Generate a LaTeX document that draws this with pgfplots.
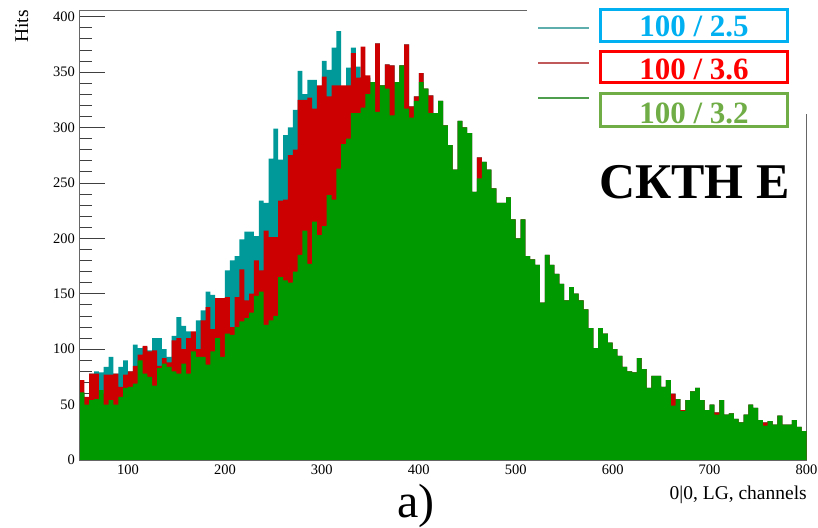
\documentclass[border=0pt]{standalone}
\usepackage{fontspec}
\setmainfont{Liberation Serif}
\usepackage{pgfplots}
\pgfplotsset{compat=1.18}
\usepackage{pgfplotstable}

\definecolor{hteal}{HTML}{009999}
\definecolor{hred}{HTML}{CC0000}
\definecolor{hgreen}{HTML}{009900}
\definecolor{lteal}{HTML}{5FAEAE}
\definecolor{lred}{HTML}{C05A5A}
\definecolor{lgreen}{HTML}{4E9E4E}
\definecolor{boxcyan}{HTML}{00B0F0}
\definecolor{boxred}{HTML}{FF0000}
\definecolor{boxgreen}{HTML}{70AD47}

% left bin edge, then teal (2.5), red (3.6), green (3.2)
\pgfplotstableread{
x t r g
50 60 72 61
55 50 57 50
60 78 78 54
65 80 78 55
70 79 60 63
75 84 77 50
80 93 77 54
85 78 78 50
90 84 66 57
95 90 77 65
100 80 80 66
105 104 85 69
110 101 95 90
115 102 103 78
120 99 98 75
125 110 99 67
130 110 85 83
135 100 92 87
140 93 88 84
145 112 108 80
150 129 110 78
155 121 100 87
160 116 110 78
165 108 116 98
170 126 100 93
175 135 126 93
180 152 138 86
185 149 118 98
190 143 146 110
195 138 146 93
200 171 147 114
205 180 120 113
210 184 147 120
215 199 172 125
220 206 144 128
225 206 150 133
230 202 180 148
235 234 171 152
240 232 207 122
245 272 201 126
250 299 201 130
255 271 234 165
260 293 235 162
265 300 275 160
270 316 280 170
275 351 325 185
280 330 325 207
285 343 327 177
290 343 317 215
295 332 338 203
300 360 346 211
305 352 328 239
310 372 338 235
315 387 338 263
320 330 338 285
325 354 338 290
330 372 367 313
335 355 345 313
340 345 373 318
345 345 347 330
350 341 341 341
355 376 376 314
360 338 338 338
365 357 357 335
370 356 356 311
375 341 341 341
380 356 356 356
385 375 375 317
390 319 319 309
395 328 328 324
400 349 349 341
405 335 335 335
410 329 329 313
415 313 313 313
420 324 324 324
425 302 302 302
430 284 284 284
435 262 262 262
440 306 306 306
445 300 300 300
450 295 295 295
455 242 242 242
460 273 273 254
465 269 269 269
470 262 262 262
475 245 245 245
480 232 232 232
485 232 232 232
490 237 237 237
495 217 217 217
500 200 200 200
505 217 217 217
510 184 184 184
515 181 181 181
520 176 176 176
525 142 142 142
530 185 185 185
535 176 176 176
540 168 168 168
545 159 159 159
550 144 144 144
555 156 156 156
560 150 150 150
565 144 144 144
570 136 136 136
575 119 119 119
580 101 101 101
585 119 119 119
590 114 114 114
595 106 106 106
600 100 100 100
605 94 94 94
610 84 84 84
615 80 80 80
620 79 79 79
625 92 92 92
630 82 82 82
635 65 65 65
640 76 76 76
645 76 76 76
650 66 66 66
655 72 72 72
660 60 60 49
665 55 55 55
670 45 45 44
675 54 54 54
680 62 62 62
685 65 65 65
690 54 54 54
695 45 45 45
700 50 50 50
705 43 43 41
710 54 54 54
715 41 41 41
720 42 42 42
725 37 37 37
730 34 34 34
735 41 41 41
740 50 50 50
745 47 47 47
750 36 36 36
755 34 34 31
760 35 35 35
765 32 32 32
770 40 40 40
775 32 32 32
780 32 32 32
785 36 36 36
790 30 30 30
795 26 26 26
800 26 26 26
}\hist

\begin{document}
\begin{tikzpicture}
\begin{axis}[
  set layers=standard,
  at={(79.5pt,-460pt)}, anchor=south west,
  width=727pt, height=450pt, scale only axis,
  xmin=50, xmax=800, ymin=0, ymax=406,
  xtick={100,200,...,800}, ytick={0,50,...,400},
  minor y tick num=4,
  xtick pos=lower, ytick pos=left,
  tick align=inside,
  major tick length=25pt, minor tick length=12.5pt,
  xtick style={draw=none},
  ytick style={black!75, line width=0.8pt},
  axis line style={black!60, line width=1pt},
  /pgf/number format/assume math mode=true,
  tick label style={font=\fontsize{14.5}{16}\selectfont},
  yticklabel style={inner sep=0pt, xshift=-4.5pt},
  xticklabel style={inner sep=0pt, yshift=-5pt},
  axis on top=false,
]
\addplot[const plot, fill=hteal, draw=none] table[x=x, y=t] {\hist} \closedcycle;
\addplot[const plot, fill=hred, draw=none] table[x=x, y=r] {\hist} \closedcycle;
\addplot[const plot, fill=hgreen, draw=none] table[x=x, y=g] {\hist} \closedcycle;
\end{axis}

% frame edges redrawn over the filled bins
\draw[black!60, line width=1pt] (79.5pt,-10pt) -- (79.5pt,-460pt) -- (806.5pt,-460pt);

% pasted legend area over the top-right of the frame
\fill[white] (527pt,0pt) rectangle (818pt,-114pt);
\draw[lteal, line width=1.3pt] (538pt,-28pt) -- (589pt,-28pt);
\draw[lred, line width=1.3pt] (538pt,-63pt) -- (589pt,-63pt);
\draw[lgreen, line width=1.3pt] (538pt,-98pt) -- (589pt,-98pt);
\draw[boxcyan, line width=3pt] (600.8pt,-9.8pt) rectangle (787.8pt,-41.2pt);
\draw[boxred, line width=3pt] (600.8pt,-51.5pt) rectangle (787.8pt,-82.8pt);
\draw[boxgreen, line width=3pt] (600.8pt,-93.8pt) rectangle (787.8pt,-126.2pt);
\node[boxcyan, anchor=base, inner sep=0pt, font=\fontsize{31}{31}\bfseries\selectfont] at (694pt,-37pt) {100 / 2.5};
\node[boxred, anchor=base, inner sep=0pt, font=\fontsize{31}{31}\bfseries\selectfont] at (694pt,-79.5pt) {100 / 3.6};
\node[boxgreen, anchor=base, inner sep=0pt, font=\fontsize{31}{31}\bfseries\selectfont] at (694pt,-123.5pt) {100 / 3.2};
\node[anchor=base, inner sep=0pt, font=\fontsize{50}{50}\bfseries\selectfont] at (694.5pt,-198pt) {СКТН Е};

\node[rotate=90, anchor=base east, inner sep=0pt, font=\fontsize{19.5}{20}\selectfont] at (28pt,-10pt) {Hits};
\node[anchor=base east, inner sep=0pt, font=\fontsize{19.5}{20}\selectfont] at (807pt,-499pt) {0|0, LG, channels};
\node[anchor=base, inner sep=0pt, font=\fontsize{48}{48}\selectfont] at (416pt,-517pt) {a)};

\pgfresetboundingbox
\path[use as bounding box] (0pt,0pt) rectangle (818pt,-527pt);
\end{tikzpicture}
\end{document}
